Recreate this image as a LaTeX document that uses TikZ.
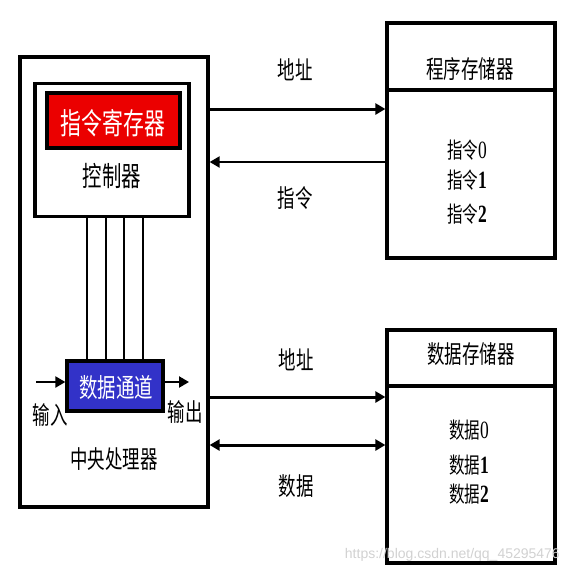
\documentclass[tikz,border=0pt]{standalone}
\usepackage{fontspec}
\usepackage{graphicx}
\setmainfont{Liberation Serif}
\newfontfamily\cjk{Noto Sans CJK SC}
\newfontfamily\wmfont{Liberation Sans}
\usetikzlibrary{arrows.meta}
\definecolor{irred}{RGB}{235,0,0}
\definecolor{dpblue}{RGB}{50,50,200}
\newcommand\tallt[2]{\scalebox{0.97}[1.38]{\fontsize{#1}{#1}\selectfont #2}}
\newcommand\dg[1]{{\rmfamily\fontsize{18}{18}\selectfont #1}}
\newcommand\dgb[1]{{\rmfamily\bfseries\fontsize{18}{18}\selectfont #1}}
\tikzset{
  box/.style={draw, line width=3.3pt, inner sep=0pt},
  arr/.style={line width=3pt, -{Triangle[length=10pt,width=11pt]}},
  tarr/.style={line width=2.2pt, -{Triangle[length=10pt,width=11pt]}},
  darr/.style={line width=3pt, {Triangle[length=10pt,width=11pt]}-{Triangle[length=10pt,width=11pt]}},
  bus/.style={line width=2pt},
  lbl/.style={font=\cjk, inner sep=0pt},
  wlbl/.style={font=\cjk, text=white, inner sep=0pt}
}
\begin{document}
\begin{tikzpicture}[x=1pt,y=-1pt]
\useasboundingbox (0,0) rectangle (568,573);
% CPU
\node[box, minimum width=188pt, minimum height=450pt] (cpu) at (114,282) {};
\node[box, minimum width=154pt, minimum height=133pt] (ctrl) at (112,150) {};
\node[box, fill=irred, minimum width=133pt, minimum height=55pt] (ir) at (113.5,120.5) {};
\node[wlbl] (irt) at (113,123) {\tallt{21.5}{指令寄存器}};
\node[lbl] (ctrlt) at (112,176) {\tallt{20}{控制器}};
\node[box, fill=dpblue, minimum width=96pt, minimum height=50pt] (dp) at (115,386) {};
\node[wlbl] (dpt) at (116,388) {\tallt{19}{数据通道}};
\foreach \i/\x in {1/87,2/106,3/124,4/143}{
  \coordinate (b\i) at (\x,0);
  \draw[bus] (ctrl.south -| b\i) -- (dp.north -| b\i);
}
\coordinate (in) at (36,382);
\coordinate (out) at (189,382);
\draw[tarr] (in) -- (in -| dp.west);
\draw[tarr] (out -| dp.east) -- (out);
\node[lbl] (int) at (50,415) {\tallt{18}{输入}};
\node[lbl] (outt) at (185,412) {\tallt{18}{输出}};
\node[lbl] (cput) at (114,459) {\tallt{18}{中央处理器}};
% program memory
\node[box, minimum width=168pt, minimum height=235pt] (pm) at (471,140.5) {};
\coordinate (pmd) at (0,90);
\draw[line width=3.3pt] (pm.west |- pmd) -- (pm.east |- pmd);
\node[lbl] (pmt) at (470,69) {\tallt{18}{程序存储器}};
\node[lbl] (i0) at (467,150) {\tallt{16}{指令\dg{0}}};
\node[lbl] (i1) at (467,180) {\tallt{16}{指令\dgb{1}}};
\node[lbl] (i2) at (467,214) {\tallt{16}{指令\dgb{2}}};
% data memory
\node[box, minimum width=168pt, minimum height=233pt] (dm) at (471,446.5) {};
\coordinate (dmd) at (0,386);
\draw[line width=3.3pt] (dm.west |- dmd) -- (dm.east |- dmd);
\node[lbl] (dmt) at (471,354) {\tallt{18}{数据存储器}};
\node[lbl] (d0) at (469,430) {\tallt{16}{数据\dg{0}}};
\node[lbl] (d1) at (469,465) {\tallt{16}{数据\dgb{1}}};
\node[lbl] (d2) at (469,494) {\tallt{16}{数据\dgb{2}}};
% connectors
\coordinate (y1) at (0,109);
\coordinate (y2) at (0,162);
\coordinate (y3) at (0,397);
\coordinate (y4) at (0,445);
\draw[arr] (cpu.east |- y1) -- (pm.west |- y1);
\draw[tarr] (pm.west |- y2) -- (cpu.east |- y2);
\draw[arr] (cpu.east |- y3) -- (dm.west |- y3);
\draw[darr] (cpu.east |- y4) -- (dm.west |- y4);
\node[lbl] (a1) at (295,70) {\tallt{18}{地址}};
\node[lbl] (c1) at (295,198) {\tallt{18}{指令}};
\node[lbl] (a2) at (296,360) {\tallt{18}{地址}};
\node[lbl] (c2) at (296,486) {\tallt{18}{数据}};
% watermark
\node[font=\wmfont\fontsize{14}{16}\selectfont, text=black!18, inner sep=0pt, anchor=east] (wm) at (560,555) {https://blog.csdn.net/qq\_45295476};
\end{tikzpicture}
\end{document}
